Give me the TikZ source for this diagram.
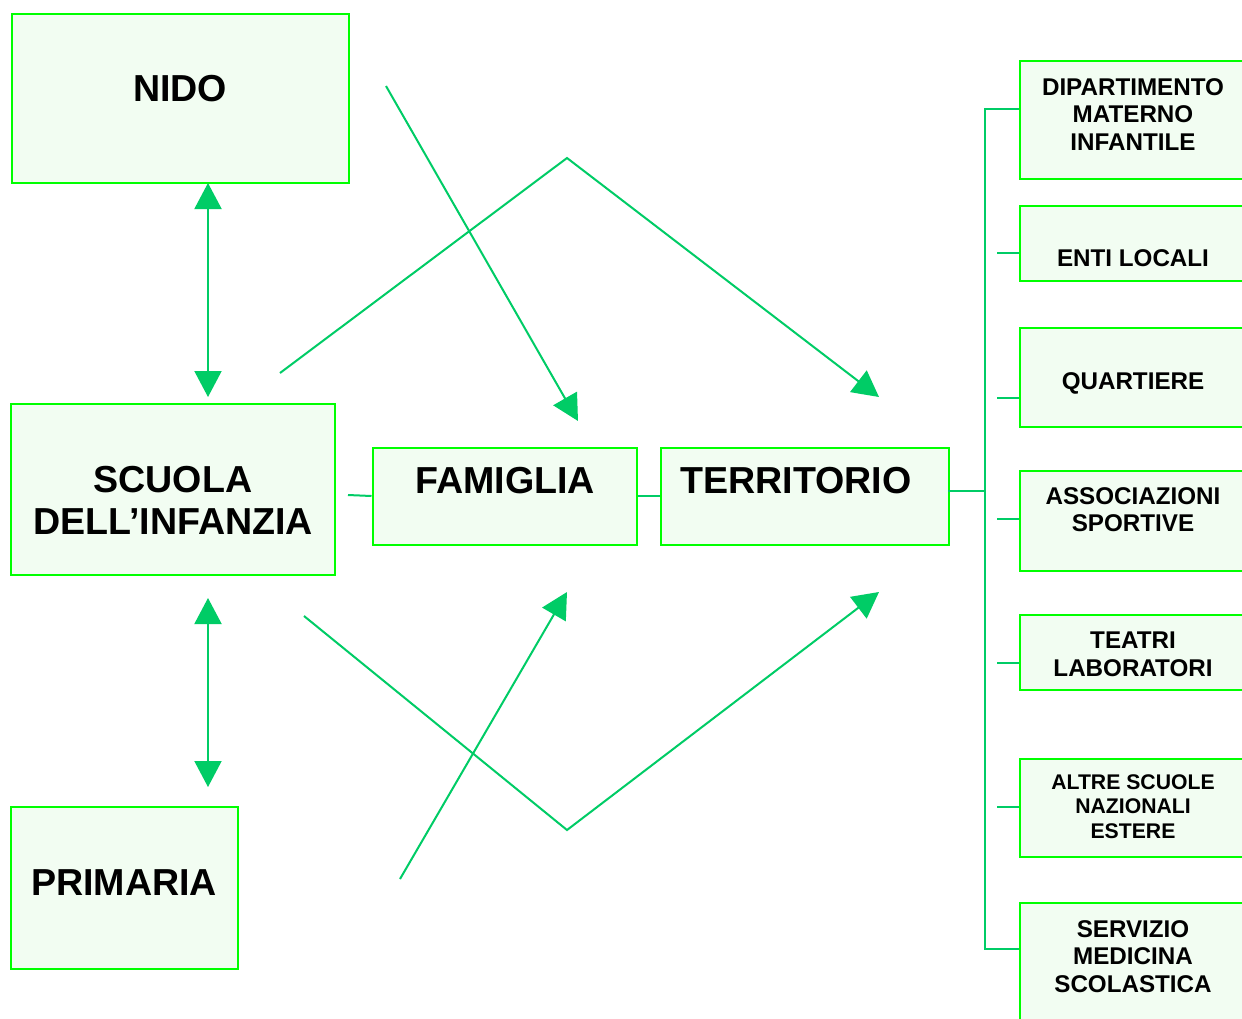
\documentclass[tikz,border=0pt]{standalone}
\usepackage{fontspec}
\setmainfont{Liberation Sans}
\usetikzlibrary{arrows.meta}
\definecolor{bord}{HTML}{00FF00}
\definecolor{fillg}{HTML}{F2FDF2}
\definecolor{conn}{HTML}{00CC66}
\begin{document}
\begin{tikzpicture}[x=1pt,y=-1pt,
  box/.style={draw=bord,line width=2pt,fill=fillg,rectangle,inner sep=0pt,anchor=north west},
  bigtxt/.style={font=\bfseries\fontsize{37.6}{42}\selectfont,align=center,inner sep=0pt,anchor=north},
  smalltxt/.style={font=\bfseries\fontsize{24.2}{27.5}\selectfont,align=center,inner sep=0pt,anchor=north},
  tinytxt/.style={font=\bfseries\fontsize{21.2}{24.5}\selectfont,align=center,inner sep=0pt,anchor=north},
  cl/.style={draw=conn,line width=2pt},
  tip/.style={-{Triangle[length=26pt,width=27pt]}},
  dtip/.style={{Triangle[length=26pt,width=27pt]}-{Triangle[length=26pt,width=27pt]}}]
\useasboundingbox (0,0) rectangle (1242,1018);
\fill[white] (0,0) rectangle (1242,1018);
% left boxes
\node[box,minimum width=337pt,minimum height=169pt] (nido) at (10.5,12.5) {};
\node[box,minimum width=324pt,minimum height=171pt] (scuola) at (9.5,402.5) {};
\node[box,minimum width=227pt,minimum height=162pt] (primaria) at (9.5,805.5) {};
\node[box,minimum width=264pt,minimum height=97pt] (famiglia) at (371.5,446.5) {};
\node[box,minimum width=288pt,minimum height=97pt] (territorio) at (659.5,446.5) {};
% right boxes
\node[box,minimum width=240pt,minimum height=118pt] (dip) at (1018.5,59.5) {};
\node[box,minimum width=240pt,minimum height=75pt] (enti) at (1018.5,204.5) {};
\node[box,minimum width=240pt,minimum height=99pt] (quart) at (1018.5,326.5) {};
\node[box,minimum width=240pt,minimum height=100pt] (assoc) at (1018.5,469.5) {};
\node[box,minimum width=240pt,minimum height=75pt] (teatri) at (1018.5,613.5) {};
\node[box,minimum width=240pt,minimum height=98pt] (altre) at (1018.5,757.5) {};
\node[box,minimum width=240pt,minimum height=130pt] (serv) at (1018.5,901.5) {};
% texts
\node[bigtxt] (tnido) at (180,75) {NIDO};
\node[bigtxt] (tscuola) at (173,466) {SCUOLA\\DELL’INFANZIA};
\node[bigtxt] (tprim) at (124,869) {PRIMARIA};
\node[bigtxt] (tfam) at (505,467) {FAMIGLIA};
\node[bigtxt] (tterr) at (796,467) {TERRITORIO};
\node[smalltxt] (tdip) at (1133,78) {DIPARTIMENTO\\MATERNO\\INFANTILE};
\node[smalltxt] (tenti) at (1133,249) {ENTI LOCALI};
\node[smalltxt] (tquart) at (1133,372) {QUARTIERE};
\node[smalltxt] (tassoc) at (1133,487) {ASSOCIAZIONI\\SPORTIVE};
\node[smalltxt] (tteatri) at (1133,632) {TEATRI\\LABORATORI};
\node[tinytxt] (taltre) at (1133,774) {ALTRE SCUOLE\\NAZIONALI\\ESTERE};
\node[smalltxt] (tserv) at (1133,920) {SERVIZIO\\MEDICINA\\SCOLASTICA};
% coordinates
\coordinate (ns) at (208,183);
\coordinate (sn) at (208,397);
\coordinate (sp) at (208,598);
\coordinate (ps) at (208,787);
\coordinate (sf) at (348,495);
\coordinate (tr) at (948,491);
\coordinate (bm) at (985,491);
\coordinate (b1) at (985,109);
\coordinate (b2) at (985,949);
\coordinate (d1) at (1019,109);
\coordinate (d2) at (1019,949);
\coordinate (a1) at (386,86);
\coordinate (a1e) at (578,421);
\coordinate (a2s) at (280,373);
\coordinate (a2m) at (567,158);
\coordinate (a2e) at (879,397);
\coordinate (a3s) at (304,616);
\coordinate (a3m) at (567,830);
\coordinate (a3e) at (879,592);
\coordinate (a4s) at (400,879);
\coordinate (a4e) at (567,592);
% connectors
\draw[cl,dtip] (ns) -- (sn);
\draw[cl,dtip] (sp) -- (ps);
\draw[cl] (sf) -- (famiglia.west);
\draw[cl] (famiglia.east) -- (territorio.west);
\draw[cl] (tr) -- (bm);
\draw[cl] (d1) -- (b1) -- (b2) -- (d2);
\foreach \n/\yy in {enti/252.7,quart/398,assoc/519,teatri/663,altre/807}{
  \draw[cl] (997,\yy) -- (\n.west |- 0,\yy);
}
\draw[cl,tip] (a1) -- (a1e);
\draw[cl,tip] (a2s) -- (a2m) -- (a2e);
\draw[cl,tip] (a3s) -- (a3m) -- (a3e);
\draw[cl,tip] (a4s) -- (a4e);
\end{tikzpicture}
\end{document}
